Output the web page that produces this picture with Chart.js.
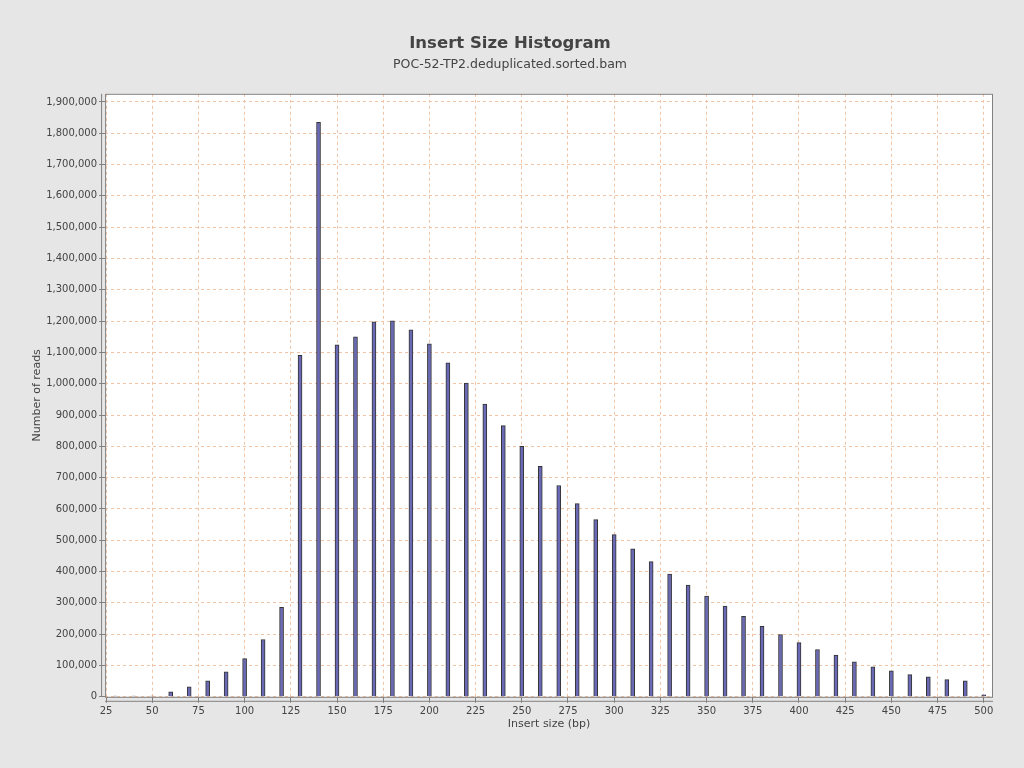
<!DOCTYPE html>
<html>
<head>
<meta charset="utf-8">
<script src="https://cdn.jsdelivr.net/npm/chart.js@4.4.1/dist/chart.umd.min.js"></script>
<style>
  html, body { margin: 0; padding: 0; background: #e6e6e6; }
  #wrap { width: 1024px; height: 768px; }
</style>
</head>
<body>
<div id="wrap"><canvas id="hist" width="1024" height="768"></canvas></div>
<script>
const insertSizes = [30, 40, 50, 60, 70, 80, 90, 100, 110, 120, 130, 140, 150, 160, 170, 180, 190, 200,
  210, 220, 230, 240, 250, 260, 270, 280, 290, 300, 310, 320, 330, 340, 350, 360, 370, 380, 390, 400,
  410, 420, 430, 440, 450, 460, 470, 480, 490, 500];
const readCounts = [2500, 2500, 2500, 16000, 32000, 51000, 80000, 122000, 183000, 286000, 1091000, 1835000,
  1124000, 1150000, 1198000, 1201000, 1172000, 1127000, 1067000, 1002000, 935000, 866000, 800000, 736000,
  675000, 617000, 566000, 518000, 473000, 432000, 392000, 357000, 322000, 290000, 257000, 225000, 199000,
  173000, 151000, 133000, 112000, 96000, 83000, 71000, 64000, 55000, 51000, 6000];
const xTicks = [25, 50, 75, 100, 125, 150, 175, 200, 225, 250, 275, 300, 325, 350, 375, 400, 425, 450, 475, 500];

const fonte = "'DejaVu Sans', sans-serif";
const corGrade = "#f0c4a4";

// fundo branco da area do grafico + moldura + linhas de eixo afastadas
const molduraPlugin = {
  id: "moldura",
  beforeDraw(chart) {
    const { ctx, chartArea: a } = chart;
    ctx.save();
    ctx.fillStyle = "#ffffff";
    ctx.fillRect(a.left, a.top, a.right - a.left, a.bottom - a.top);
    ctx.restore();
  },
  afterDraw(chart) {
    const { ctx, chartArea: a } = chart;
    ctx.save();
    ctx.strokeStyle = "#808080";
    ctx.lineWidth = 1;
    ctx.strokeRect(a.left + 0.5, a.top + 0.5, a.right - a.left - 1, a.bottom - a.top);
    ctx.beginPath();
    ctx.moveTo(a.left - 3.5, a.top);
    ctx.lineTo(a.left - 3.5, a.bottom);
    ctx.moveTo(a.left, a.bottom + 4.5);
    ctx.lineTo(a.right, a.bottom + 4.5);
    ctx.stroke();
    ctx.restore();
  },
};

const dados = insertSizes.map((x, i) => ({ x, y: readCounts[i] }));

new Chart(document.getElementById("hist"), {
  type: "bar",
  data: {
    datasets: [
      {
        data: dados,
        backgroundColor: "#6a6ab4",
        borderColor: "#333333",
        borderWidth: 1,
        barThickness: 4,
      },
    ],
  },
  plugins: [molduraPlugin],
  options: {
    responsive: false,
    animation: false,
    layout: { padding: { left: 27, right: 31, top: 14, bottom: 33 } },
    plugins: {
      legend: { display: false },
      tooltip: { enabled: false },
      title: {
        display: true,
        text: "Insert Size Histogram",
        color: "#444444",
        font: { family: fonte, size: 16.5, weight: "bold" },
        padding: { top: 20, bottom: 3 },
      },
      subtitle: {
        display: true,
        text: "POC-52-TP2.deduplicated.sorted.bam",
        color: "#444444",
        font: { family: fonte, size: 12.5 },
        padding: { bottom: 22 },
      },
    },
    scales: {
      x: {
        type: "linear",
        offset: false,
        min: 24.5,
        max: 505,
        afterBuildTicks: (scale) => {
          scale.ticks = xTicks.map((v) => ({ value: v }));
        },
        title: {
          display: true,
          text: "Insert size (bp)",
          color: "#444444",
          font: { family: fonte, size: 11 },
          padding: { top: -3, bottom: 4 },
        },
        ticks: {
          color: "#444444",
          font: { family: fonte, size: 10 },
          maxRotation: 0,
          autoSkip: false,
          padding: 3,
        },
        grid: {
          offset: false,
          color: corGrade,
          tickColor: "#808080",
          tickLength: 6,
        },
        border: { display: false, dash: [3, 3] },
      },
      y: {
        min: 0,
        max: 1926000,
        afterBuildTicks: (scale) => {
          const t = [];
          for (let v = 0; v <= 1900000; v += 100000) t.push({ value: v });
          scale.ticks = t;
        },
        title: {
          display: true,
          text: "Number of reads",
          color: "#444444",
          font: { family: fonte, size: 11 },
          padding: { bottom: 0 },
        },
        ticks: {
          color: "#444444",
          font: { family: fonte, size: 10 },
          padding: 2,
          callback: (v) => v.toLocaleString("en-US"),
        },
        grid: {
          color: corGrade,
          tickColor: "#808080",
          tickLength: 6,
        },
        border: { display: false, dash: [3, 3] },
      },
    },
  },
});
</script>
</body>
</html>
